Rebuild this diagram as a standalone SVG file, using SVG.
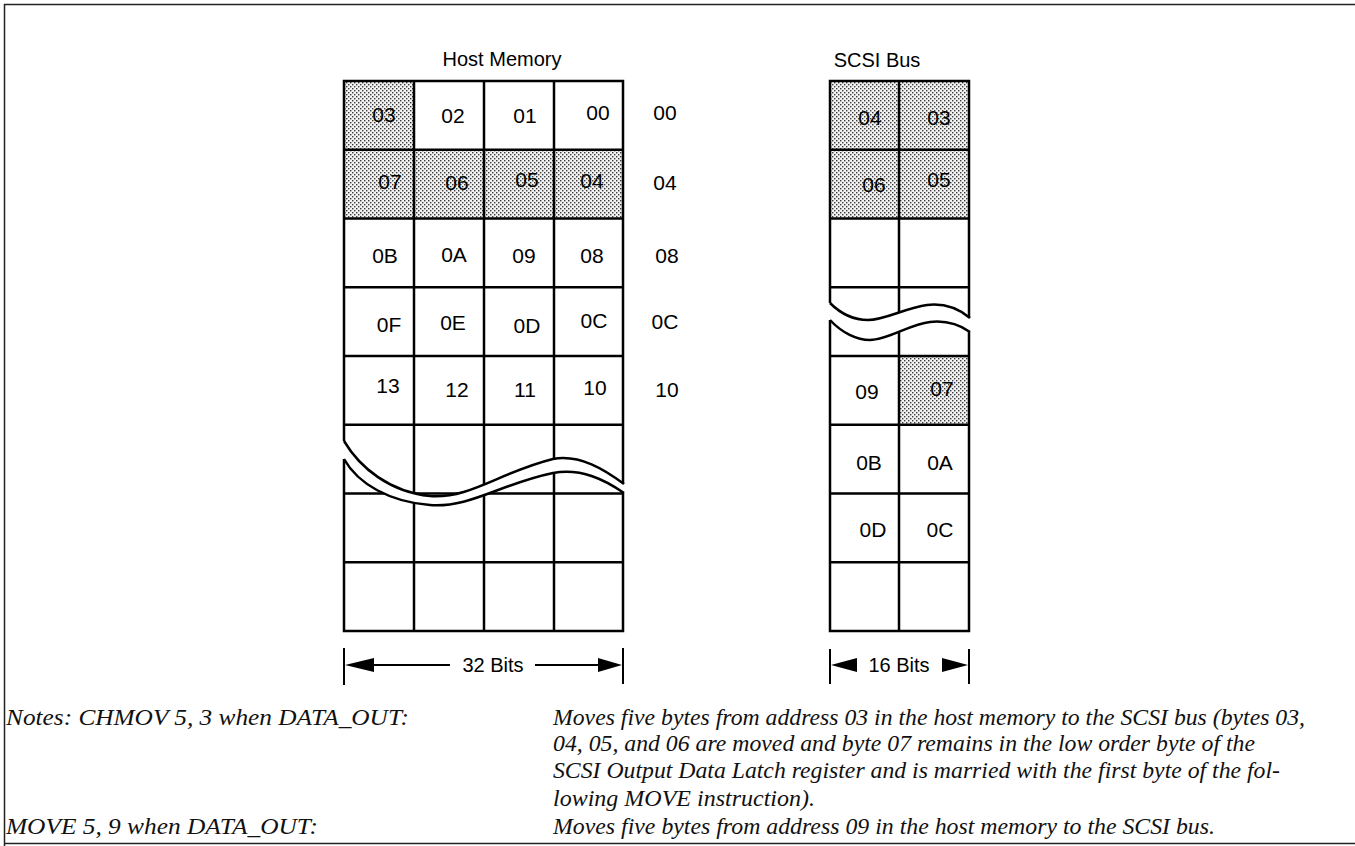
<svg xmlns="http://www.w3.org/2000/svg" width="1355" height="846" viewBox="0 0 1355 846">
<defs>
<pattern id="dots" width="4" height="4" patternUnits="userSpaceOnUse"><rect width="4" height="4" fill="#f2f2f2"/><rect x="0" y="0" width="1.4" height="1.4" fill="#3a3a3a"/><rect x="2" y="2" width="1.4" height="1.4" fill="#3a3a3a"/></pattern>
<style>
.grid{fill:none;stroke:#000;stroke-width:2.5}
.shade{fill:url(#dots);stroke:none}
.wave{fill:none;stroke:#000;stroke-width:2.5}
.band{fill:#fff;stroke:none}
.lbl{font-family:"Liberation Sans",Arial,sans-serif;font-size:21px;fill:#000;text-anchor:middle}
.ttl{font-family:"Liberation Sans",Arial,sans-serif;font-size:20px;fill:#000;text-anchor:middle}
.note{font-family:"Liberation Serif","Times New Roman",serif;font-style:italic;font-size:23px;fill:#111}
.dim{stroke:#000;stroke-width:2;fill:none}
.frame{stroke:#222;stroke-width:1.5;fill:none}
</style>
</defs>
<rect width="1355" height="846" fill="#fff"/>
<g id="frame"><path class="frame" d="M4.5,846 V4.5 H1355 M4.5,843.5 H1355"/></g>

<g id="host-memory">
<text class="ttl" x="502" y="66">Host Memory</text>
<rect class="shade" x="344" y="81" width="70" height="68.75"/>
<rect class="shade" x="344" y="149.75" width="279" height="68.75"/>
<rect class="grid" x="344" y="81" width="279" height="550"/>
<path class="grid" d="M414,81V631M484,81V631M554,81V631M344,149.75H623M344,218.5H623M344,287.25H623M344,356H623M344,424.75H623M344,493.5H623M344,562.25H623"/>
<path class="band" d="M340,441 L344,441 C360,468 390,492 430,496 C470,499 500,472 553,459 C580,454 605,470 624,484 L628,484 L628,493 L624,493 C605,480 582,468 553,473 C500,484 470,508 430,505 C390,502 358,484 344,459 L340,459 Z"/>
<path class="wave" d="M344,441 C360,468 390,492 430,496 C470,499 500,472 553,459 C580,454 605,470 624,484"/>
<path class="wave" d="M344,459 C358,484 390,502 430,505 C470,508 500,484 553,473 C582,468 605,480 624,493"/>
<text class="lbl" x="384" y="122">03</text><text class="lbl" x="453" y="123">02</text><text class="lbl" x="525" y="123">01</text><text class="lbl" x="598" y="120">00</text>
<text class="lbl" x="390" y="189">07</text><text class="lbl" x="457" y="190">06</text><text class="lbl" x="527" y="187">05</text><text class="lbl" x="592" y="188">04</text>
<text class="lbl" x="385" y="263">0B</text><text class="lbl" x="454" y="262">0A</text><text class="lbl" x="524" y="263">09</text><text class="lbl" x="592" y="263">08</text>
<text class="lbl" x="389" y="332">0F</text><text class="lbl" x="453" y="330">0E</text><text class="lbl" x="527" y="333">0D</text><text class="lbl" x="594" y="328">0C</text>
<text class="lbl" x="388" y="393">13</text><text class="lbl" x="457" y="397">12</text><text class="lbl" x="525" y="397">11</text><text class="lbl" x="595" y="395">10</text>
</g>

<g id="host-addresses">
<text class="lbl" x="665" y="120">00</text>
<text class="lbl" x="665" y="190">04</text>
<text class="lbl" x="667" y="263">08</text>
<text class="lbl" x="665" y="329">0C</text>
<text class="lbl" x="667" y="397">10</text>
</g>

<g id="scsi-bus">
<text class="ttl" x="877" y="67">SCSI Bus</text>
<rect class="shade" x="830" y="81" width="139" height="137.5"/>
<rect class="shade" x="899" y="356" width="70" height="68.75"/>
<rect class="grid" x="830" y="81" width="139" height="550"/>
<path class="grid" d="M899,81V631M830,149.75H969M830,218.5H969M830,287.25H969M830,356H969M830,424.75H969M830,493.5H969M830,562.25H969"/>
<path class="band" d="M826,303 L830,303 C842,315 855,320 868,320 C885,320 905,308 927,305 C945,303 958,308 970,318 L974,318 L974,332 L970,332 C960,325 948,320 930,322 C910,324 888,340 870,340 C857,340 842,333 830,320 L826,320 Z"/>
<path class="wave" d="M830,303 C842,315 855,320 868,320 C885,320 905,308 927,305 C945,303 958,308 970,318"/>
<path class="wave" d="M830,320 C842,333 857,340 870,340 C888,340 910,324 930,322 C948,320 960,325 970,332"/>
<text class="lbl" x="870" y="125">04</text><text class="lbl" x="939" y="125">03</text>
<text class="lbl" x="874" y="192">06</text><text class="lbl" x="939" y="187">05</text>
<text class="lbl" x="867" y="399">09</text><text class="lbl" x="942" y="396">07</text>
<text class="lbl" x="869" y="470">0B</text><text class="lbl" x="940" y="470">0A</text>
<text class="lbl" x="873" y="537">0D</text><text class="lbl" x="940" y="537">0C</text>
</g>

<g id="connectors">
<path class="dim" d="M344,648V685M623,648V684M373,665H450M535,665H599"/>
<polygon points="345,665 374,658 374,672" fill="#000"/>
<polygon points="622,665 598,658 598,672" fill="#000"/>
<path class="dim" d="M830,649V684M969,649V684"/>
<polygon points="831,665 857,658 857,672" fill="#000"/>
<polygon points="968,665 942,658 942,672" fill="#000"/>
</g>
<g id="dim-labels">
<text class="ttl" x="493" y="672">32 Bits</text>
<text class="ttl" x="899" y="672">16 Bits</text>
</g>

<g id="notes">
<text class="note" x="6" y="725" textLength="403" lengthAdjust="spacingAndGlyphs">Notes: CHMOV 5, 3 when DATA_OUT:</text>
<text class="note" x="6" y="834" textLength="312" lengthAdjust="spacingAndGlyphs">MOVE 5, 9 when DATA_OUT:</text>
<text class="note" x="553" y="725" textLength="752" lengthAdjust="spacingAndGlyphs">Moves five bytes from address 03 in the host memory to the SCSI bus (bytes 03,</text>
<text class="note" x="553" y="751" textLength="702" lengthAdjust="spacingAndGlyphs">04, 05, and 06 are moved and byte 07 remains in the low order byte of the</text>
<text class="note" x="553" y="778" textLength="727" lengthAdjust="spacingAndGlyphs">SCSI Output Data Latch register and is married with the first byte of the fol-</text>
<text class="note" x="553" y="806" textLength="262" lengthAdjust="spacingAndGlyphs">lowing MOVE instruction).</text>
<text class="note" x="553" y="834" textLength="662" lengthAdjust="spacingAndGlyphs">Moves five bytes from address 09 in the host memory to the SCSI bus.</text>
</g>
</svg>
